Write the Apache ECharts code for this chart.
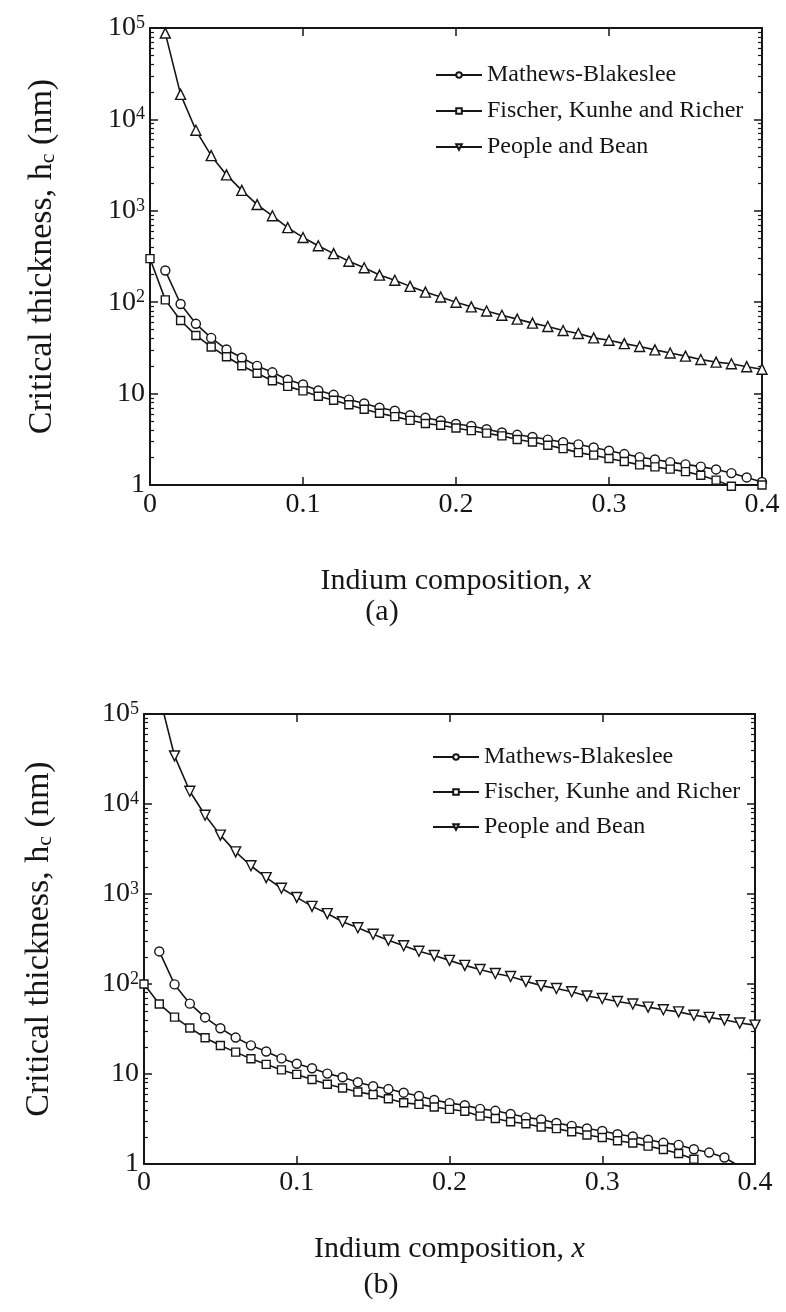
<!DOCTYPE html>
<html>
<head>
<meta charset="utf-8">
<script src="https://cdn.jsdelivr.net/npm/echarts@6/dist/echarts.min.js"></script>
<style>
html,body{margin:0;padding:0;background:#ffffff;}
#chart{width:786px;height:1312px;}
</style>
</head>
<body>
<div id="chart"></div>
<script>
// ---------- data ----------
const xValues = [0.00,0.01,0.02,0.03,0.04,0.05,0.06,0.07,0.08,0.09,
                 0.10,0.11,0.12,0.13,0.14,0.15,0.16,0.17,0.18,0.19,
                 0.20,0.21,0.22,0.23,0.24,0.25,0.26,0.27,0.28,0.29,
                 0.30,0.31,0.32,0.33,0.34,0.35,0.36,0.37,0.38,0.39,0.40];

const seriesNames = ['Mathews-Blakeslee', 'Fischer, Kunhe and Richer', 'People and Bean'];

// panel (a)
const aMathews = [null,222,95.5,58,40.7,30.4,24.7,20.1,17.1,14.2,
                  12.6,10.8,9.7,8.6,7.8,7.0,6.5,5.8,5.45,5.05,
                  4.65,4.42,4.08,3.75,3.54,3.35,3.14,2.94,2.78,2.57,
                  2.37,2.18,2.02,1.90,1.78,1.68,1.59,1.48,1.35,1.21,1.08];
const aFischer = [300,106,63,43.3,32.4,25.3,20.2,16.7,13.8,12.0,
                  10.7,9.35,8.45,7.55,6.75,6.1,5.6,5.1,4.7,4.5,
                  4.2,3.93,3.69,3.45,3.15,2.95,2.72,2.5,2.26,2.12,
                  1.95,1.81,1.66,1.58,1.49,1.40,1.28,1.13,0.97,null,1.0];
const aPeople  = [null,88000,18800,7600,4010,2470,1675,1170,882,654,
                  511,415,340,281,238,198,174,149,129,114,
                  100,89,80,72,65.3,59,54.3,49,45.5,40.7,
                  38.3,35.2,32.8,30.1,27.8,25.7,23.6,22.1,21.2,19.7,18.5];

// panel (b)
const bMathews = [null,230,99,60.5,42.5,32.2,25.4,20.8,17.8,14.9,
                  13.0,11.6,10.1,9.2,8.1,7.3,6.8,6.2,5.7,5.15,
                  4.75,4.5,4.1,3.9,3.6,3.3,3.12,2.86,2.65,2.48,
                  2.33,2.14,2.02,1.86,1.72,1.63,1.46,1.34,1.18,0.94,null];
const bFischer = [100,60,42.9,32.5,25.3,20.7,17.5,14.8,12.8,11.1,
                  9.9,8.7,7.7,7.0,6.3,5.9,5.3,4.8,4.6,4.3,
                  4.05,3.85,3.4,3.2,2.95,2.8,2.58,2.47,2.28,2.1,
                  1.97,1.81,1.71,1.58,1.45,1.31,1.13,null,null,null,null];
const bPeople  = [null,160000,34200,13850,7500,4510,2940,2060,1520,1158,
                  916,729,606,491,422,357,307,266,231,207,
                  183,161,145,131,121,107,96,89,82,73.7,
                  69,64,60,55.3,51.7,49,45,42.6,40,36.8,34.9];

// ticks / labels
const xTickLabels = ['0','0.1','0.2','0.3','0.4'];
const yMajorValues = [1,10,100,1000,10000,100000];
const yMajorLabels = ['1','10','10{sup|2}','10{sup|3}','10{sup|4}','10{sup|5}'];
const yMinorValues = [];
for (let d = 1; d <= 10000; d *= 10) { for (let m = 2; m <= 9; m++) yMinorValues.push(m * d); }

const panelLabels = ['(a)', '(b)'];
const xAxisTitle = 'Indium composition, {it|x}';
const yAxisTitle = 'Critical thickness, h{sub|c} (nm)';

// ---------- style ----------
const FONT = '"Liberation Serif","Times New Roman",serif';
const INK = '#161616';

function pairs(ys) { return xValues.map((x, i) => [x, ys[i]]); }

const grids = [
  {left: 150, top: 28, width: 612, height: 457},
  {left: 144, top: 714, width: 611, height: 450}
];
const xNameGap = [81, 70];
const xLabelMargin = [6, 5];
const yNameGap = [91, 88];

const xAxes = [], yAxes = [], series = [];

grids.forEach((g, gi) => {
  xAxes.push({
    type: 'value', gridIndex: gi, position: 'bottom', min: 0, max: 0.4, interval: 0.1,
    axisLine: {show: true, onZero: false, lineStyle: {color: INK, width: 2}},
    axisTick: {show: true, inside: true, length: 8, lineStyle: {color: INK, width: 1.5}},
    axisLabel: {show: true, margin: xLabelMargin[gi], color: INK, fontFamily: FONT, fontSize: 28,
      formatter: (v, i) => xTickLabels[i]},
    splitLine: {show: false},
    name: xAxisTitle, nameLocation: 'middle', nameGap: xNameGap[gi],
    nameTextStyle: {color: INK, fontFamily: FONT, fontSize: 30,
      rich: {it: {fontStyle: 'italic', fontFamily: FONT, fontSize: 30, color: INK}}}
  });
  xAxes.push({
    type: 'value', gridIndex: gi, position: 'top', min: 0, max: 0.4, interval: 0.1,
    axisLine: {show: true, onZero: false, lineStyle: {color: INK, width: 2}},
    axisTick: {show: true, inside: true, length: 8, lineStyle: {color: INK, width: 1.5}},
    axisLabel: {show: false}, splitLine: {show: false}
  });
  ['left', 'right'].forEach(pos => {
    const major = {
      type: 'log', logBase: 10, gridIndex: gi, position: pos, min: 1, max: 100000,
      axisLine: {show: true, onZero: false, lineStyle: {color: INK, width: 2}},
      axisTick: {show: true, inside: true, length: 8, customValues: yMajorValues,
        lineStyle: {color: INK, width: 1.5}},
      axisLabel: {show: false},
      splitLine: {show: false}
    };
    if (pos === 'left') {
      major.axisLabel = {
        show: true, customValues: yMajorValues, margin: 5, color: INK, fontFamily: FONT,
        fontSize: 28, lineHeight: 28,
        formatter: v => yMajorLabels[Math.round(Math.log10(v))],
        rich: {sup: {fontSize: 18, lineHeight: 12, verticalAlign: 'top', fontFamily: FONT, color: INK}}
      };
      major.name = yAxisTitle;
      major.nameLocation = 'middle';
      major.nameGap = yNameGap[gi];
      major.nameRotate = 90;
      major.nameTextStyle = {color: INK, fontFamily: FONT, fontSize: 34, lineHeight: 34,
        rich: {sub: {fontSize: 22, lineHeight: 14, verticalAlign: 'bottom', fontFamily: FONT, color: INK}}};
    }
    yAxes.push(major);
    yAxes.push({
      type: 'log', logBase: 10, gridIndex: gi, position: pos, min: 1, max: 100000,
      axisLine: {show: false, onZero: false},
      axisTick: {show: true, inside: true, length: 4, customValues: yMinorValues,
        lineStyle: {color: INK, width: 1.2}},
      axisLabel: {show: false}, splitLine: {show: false}
    });
  });
});

function makeSeries(name, ys, gi, symbol, size, rotate, clip) {
  return {
    type: 'line', name: name, data: pairs(ys),
    xAxisIndex: gi * 2, yAxisIndex: gi * 4,
    symbol: symbol, symbolSize: size, symbolRotate: rotate,
    showSymbol: true, showAllSymbol: true, connectNulls: false, clip: clip,
    lineStyle: {color: INK, width: 1.6},
    itemStyle: {color: '#ffffff', borderColor: INK, borderWidth: 1.4},
    emphasis: {disabled: true}, animation: false
  };
}

series.push(makeSeries(seriesNames[0], aMathews, 0, 'circle', 9, 0, false));
series.push(makeSeries(seriesNames[1], aFischer, 0, 'rect', 8, 0, false));
series.push(makeSeries(seriesNames[2], aPeople, 0, 'triangle', 10, 0, false));
series.push(makeSeries(seriesNames[0], bMathews, 1, 'circle', 9, 0, true));
series.push(makeSeries(seriesNames[1], bFischer, 1, 'rect', 8, 0, true));
series.push(makeSeries(seriesNames[2], bPeople, 1, 'triangle', 10, 180, true));

function makeLegend(left, top, gap) {
  return {
    orient: 'vertical', left: left, top: top, itemWidth: 46, itemHeight: 7, itemGap: gap,
    selectedMode: false, padding: 0,
    textStyle: {color: INK, fontFamily: FONT, fontSize: 24, lineHeight: 24},
    data: [{name: seriesNames[0]}, {name: seriesNames[1]}, {name: seriesNames[2], symbolRotate: 180}]
  };
}

const option = {
  backgroundColor: '#ffffff',
  animation: false,
  textStyle: {fontFamily: FONT, color: INK},
  grid: grids,
  xAxis: xAxes,
  yAxis: yAxes,
  legend: [makeLegend(435, 63, 12), makeLegend(432, 745, 11)],
  series: series,
  graphic: [
    {type: 'text', x: 382, y: 612, style: {text: panelLabels[0], font: '30px ' + FONT, fill: INK,
      textAlign: 'center', textVerticalAlign: 'middle'}},
    {type: 'text', x: 381, y: 1285, style: {text: panelLabels[1], font: '30px ' + FONT, fill: INK,
      textAlign: 'center', textVerticalAlign: 'middle'}}
  ]
};

const chart = echarts.init(document.getElementById('chart'), null, {renderer: 'canvas'});
chart.setOption(option);
</script>
</body>
</html>
